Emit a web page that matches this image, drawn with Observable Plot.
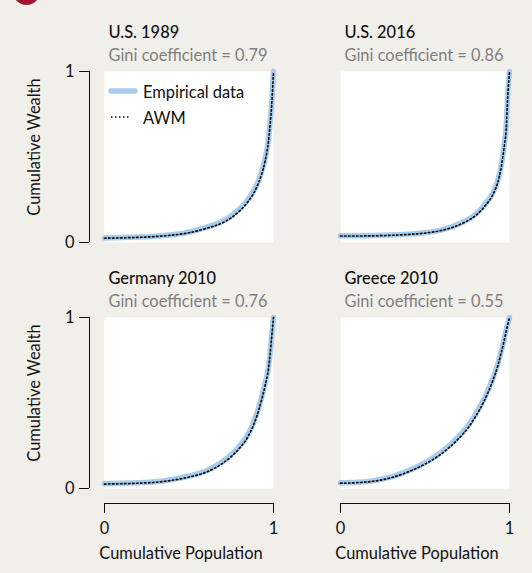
<!DOCTYPE html>
<html><head><meta charset="utf-8">
<script src="https://cdn.jsdelivr.net/npm/d3@7"></script>
<script src="https://cdn.jsdelivr.net/npm/@observablehq/plot@0.6"></script>
<style>
html,body{margin:0;padding:0;background:#f1efe9;}
#wrap{position:relative;width:532px;height:573px;overflow:hidden;font-family:Lato,sans-serif;}
#badge{position:absolute;left:13px;top:-22px;width:27px;height:27px;border-radius:50%;background:#9e1630;}
.leg{position:absolute;display:flex;align-items:center;color:#111;white-space:nowrap;}
.leg svg{margin-right:4px;}
.leg span{display:inline-block;transform-origin:left center;}
</style></head><body><div id="wrap"><div id="badge"></div></div>
<script>
const panelNames = ["U.S. 1989", "U.S. 2016", "Germany 2010", "Greece 2010"];
const giniValues = [0.79, 0.86, 0.76, 0.55];
const panelCols = ["left", "right", "left", "right"];
const panelRows = ["top", "top", "bottom", "bottom"];
const popGrid = [0, 0.1, 0.2, 0.3, 0.4, 0.5, 0.6, 0.7, 0.75, 0.8, 0.85, 0.9, 0.93, 0.95, 0.97, 0.98, 0.99, 1];
const us1989Emp = [0.027,0.029,0.032,0.037,0.045,0.061,0.089,0.125,0.156,0.197,0.252,0.336,0.415,0.49,0.60,0.70,0.82,1.0];
const us1989Awm = [0.025,0.027,0.030,0.035,0.043,0.057,0.082,0.116,0.145,0.185,0.240,0.322,0.400,0.475,0.590,0.690,0.815,1.0];
const us2016Emp = [0.040,0.040,0.041,0.044,0.049,0.057,0.074,0.108,0.132,0.165,0.218,0.288,0.360,0.445,0.58,0.665,0.87,1.0];
const us2016Awm = [0.038,0.038,0.039,0.042,0.047,0.055,0.071,0.102,0.126,0.158,0.208,0.278,0.350,0.435,0.57,0.655,0.86,1.0];
const germanyEmp = [0.028,0.030,0.033,0.039,0.053,0.073,0.102,0.158,0.198,0.249,0.318,0.435,0.535,0.615,0.705,0.79,0.90,1.0];
const germanyAwm = [0.026,0.028,0.031,0.036,0.048,0.067,0.095,0.148,0.187,0.237,0.305,0.420,0.520,0.600,0.700,0.785,0.895,1.0];
const greeceEmp = [0.033,0.036,0.046,0.068,0.103,0.151,0.215,0.305,0.36,0.435,0.525,0.64,0.725,0.80,0.88,0.925,0.965,1.0];
const greeceAwm = [0.031,0.034,0.043,0.063,0.097,0.143,0.205,0.293,0.348,0.422,0.512,0.628,0.715,0.79,0.872,0.918,0.96,1.0];
const xTicks = [0, 1];
const yTicks = [0, 1];
const legendLabels = ["Empirical data", "AWM"];

const empSeries = [us1989Emp, us2016Emp, germanyEmp, greeceEmp];
const awmSeries = [us1989Awm, us2016Awm, germanyAwm, greeceAwm];

const FONT = `Lato, "Noto Sans", sans-serif`;
const FS = 18;
const EMP_STYLE = {stroke: "#a8ccee", strokeWidth: 5.5};
const AWM_STYLE = {stroke: "#111", strokeWidth: 1.7, dash: "1.5 2.5"};

// horizontal condensing factor so the subtitle width matches the reference (~159px)
const ctx = document.createElement("canvas").getContext("2d");
ctx.font = `${FS}px ${FONT}`;
const wSub = ctx.measureText("Gini coefficient = 0.79").width;
let SX = 159 / wSub;
if (!isFinite(SX) || SX < 0.6 || SX > 1.2) SX = 0.87;

const rows = [];
panelNames.forEach((name, p) => {
  popGrid.forEach((x, i) => {
    rows.push({panel: name, col: panelCols[p], row: panelRows[p], x, emp: empSeries[p][i], awm: awmSeries[p][i]});
  });
});
const titles = panelNames.map((name, p) => ({name, gini: giniValues[p], col: panelCols[p], row: panelRows[p]}));

const chart = Plot.plot({
  width: 532, height: 573,
  marginLeft: 103, marginRight: 22, marginTop: 71, marginBottom: 85,
  style: {background: "transparent", fontFamily: FONT, fontSize: FS + "px", color: "#111", overflow: "visible"},
  x: {domain: [0, 1]},
  y: {domain: [0, 1]},
  fx: {domain: ["left", "right"], paddingInner: 0.2827, paddingOuter: 0, axis: null, label: null},
  fy: {domain: ["top", "bottom"], paddingInner: 0.3049, paddingOuter: 0, axis: null, label: null},
  marks: [
    Plot.frame({fill: "white", stroke: "none"}),
    Plot.line(rows, {x: "x", y: "emp", fx: "col", fy: "row", z: "panel", stroke: EMP_STYLE.stroke, strokeWidth: EMP_STYLE.strokeWidth, strokeLinecap: "round", curve: "monotone-x"}),
    Plot.line(rows, {x: "x", y: "awm", fx: "col", fy: "row", z: "panel", stroke: AWM_STYLE.stroke, strokeWidth: AWM_STYLE.strokeWidth, strokeDasharray: AWM_STYLE.dash, curve: "monotone-x"}),
    Plot.axisY({ticks: yTicks, tickSize: 10, tickPadding: 5, dx: -15, tickFormat: d => String(d), label: null, stroke: "#111", fill: "#111"}),
    Plot.ruleX([0], {y1: 0, y2: 1, dx: -15, facetAnchor: "left", stroke: "#111"}),
    Plot.axisX({ticks: xTicks, tickSize: 10, tickPadding: 8, dy: 15, tickFormat: d => String(d), label: null, stroke: "#111", fill: "#111"}),
    Plot.ruleY([0], {x1: 0, x2: 1, dy: 15, facetAnchor: "bottom", stroke: "#111"}),
    Plot.text(titles, {fx: "col", fy: "row", text: "name", frameAnchor: "top-left", textAnchor: "start", lineAnchor: "middle", dx: 4, dy: -39, fill: "#111", fontWeight: 500}),
    Plot.text(titles, {fx: "col", fy: "row", text: d => `Gini coefficient = ${d.gini.toFixed(2)}`, frameAnchor: "top-left", textAnchor: "start", lineAnchor: "middle", dx: 4, dy: -16, fill: "#7f7f7f"}),
    Plot.text(["Cumulative Population"], {text: d => d, frameAnchor: "bottom", facetAnchor: "bottom", textAnchor: "middle", lineAnchor: "middle", dy: 65, dx: -8, fill: "#111"}),
    Plot.text(["Cumulative Wealth"], {text: d => d, frameAnchor: "left", facetAnchor: "left", rotate: -90, textAnchor: "middle", lineAnchor: "middle", dx: -70, dy: -10, fill: "#111"})
  ]
});
// condense glyphs horizontally (narrow typeface look) around each text's own anchor
chart.querySelectorAll("text").forEach(t => {
  const tr = t.getAttribute("transform") || "";
  t.setAttribute("transform", `${tr} scale(${SX},1)`.trim());
});
chart.style.position = "absolute";
chart.style.left = "0px";
chart.style.top = "0px";
const wrap = document.getElementById("wrap");
wrap.appendChild(chart);

// legend (inside the first panel)
const legendDefs = [
  {label: legendLabels[0], top: 80, svg: `<svg width="31" height="12"><line x1="3" y1="6" x2="27" y2="6" stroke="${EMP_STYLE.stroke}" stroke-width="${EMP_STYLE.strokeWidth}" stroke-linecap="round"/></svg>`},
  {label: legendLabels[1], top: 106, svg: `<svg width="31" height="12"><line x1="3" y1="6" x2="23" y2="6" stroke="${AWM_STYLE.stroke}" stroke-width="${AWM_STYLE.strokeWidth}" stroke-dasharray="${AWM_STYLE.dash}"/></svg>`}
];
legendDefs.forEach(d => {
  const el = document.createElement("div");
  el.className = "leg";
  el.style.left = "108px";
  el.style.top = d.top + "px";
  el.style.height = "22px";
  el.style.fontSize = FS + "px";
  el.innerHTML = d.svg + `<span style="transform:scaleX(${SX})">${d.label}</span>`;
  wrap.appendChild(el);
});
</script>
</body></html>
